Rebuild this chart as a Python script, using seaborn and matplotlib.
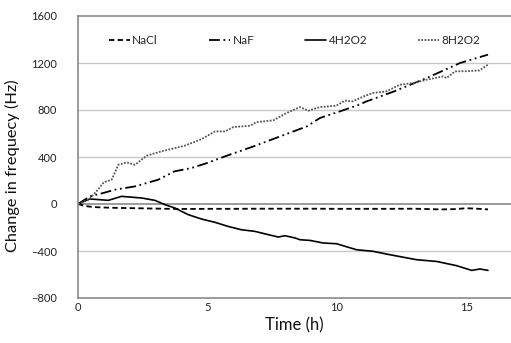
import matplotlib
matplotlib.use("Agg")
import matplotlib.pyplot as plt
import seaborn as sns
import pandas as pd

# ---- data ----
nacl_t = [0, 0.3, 0.6, 1.0, 1.5, 2.0, 2.5, 3.0, 3.5, 4.0, 4.5, 5.0, 6.0, 7.0, 8.0, 9.0,
          10.0, 11.0, 12.0, 13.0, 13.5, 14.0, 14.5, 15.0, 15.4, 15.83]
nacl_v = [0, -18, -26, -30, -33, -35, -37, -39, -41, -42, -42, -41, -41, -40, -40, -40,
          -41, -41, -41, -40, -43, -46, -44, -36, -40, -46]

naf_t = [0, 0.46, 1.0, 1.43, 2.2, 3.1, 3.73, 4.38, 5.0, 5.67, 6.77, 7.8, 8.83, 9.34,
         10.0, 10.9, 11.1, 12.2, 13.46, 14.75, 15.83]
naf_v = [0, 65, 95, 122, 150, 207, 278, 306, 350, 405, 490, 575, 660, 732,
         780, 848, 870, 958, 1072, 1200, 1271]

h4_t = [0, 0.46, 1.17, 1.68, 2.46, 2.97, 3.36, 3.74, 4.26, 4.77, 5.29, 5.8, 6.31, 6.83,
        7.35, 7.73, 7.99, 8.38, 8.57, 8.96, 9.47, 9.98, 10.75, 11.4, 12.05, 13.07,
        13.85, 14.62, 15.2, 15.52, 15.83]
h4_v = [0, 43, 31, 65, 51, 31, -6, -34, -91, -128, -156, -191, -219, -233,
        -261, -281, -270, -289, -304, -310, -332, -338, -389, -403, -432, -474,
        -489, -525, -565, -553, -565]

h8_t = [0, 0.46, 0.8, 1.0, 1.3, 1.56, 1.88, 2.2, 2.65, 3.22, 4.12, 4.78, 5.29, 5.68,
        6.0, 6.64, 6.9, 7.54, 8.05, 8.57, 8.89, 9.34, 9.98, 10.3, 10.6, 11.1, 11.4,
        11.9, 12.43, 12.95, 13.46, 14.1, 14.23, 14.56, 15.0, 15.5, 15.83]
h8_v = [0, 45, 130, 185, 207, 334, 354, 334, 411, 448, 496, 553, 618, 618,
        655, 666, 697, 712, 774, 825, 794, 825, 837, 880, 873, 922, 945,
        958, 1015, 1030, 1058, 1086, 1072, 1129, 1130, 1137, 1186]

series_names = ["NaCl", "NaF", "4H2O2", "8H2O2"]
y_ticks = [-800, -400, 0, 400, 800, 1200, 1600]
x_ticks = [0, 5, 10, 15]

# ---- drawing ----
sns.set_style("white")
plt.rcParams["font.family"] = ["Lato", "DejaVu Sans"]

W, H = 511, 343
fig = plt.figure(figsize=(W / 100, H / 100), dpi=100)
ax = fig.add_axes([78 / W, (H - 298) / H, (W - 78) / W, (298 - 16) / H])

styles = [
    (nacl_t, nacl_v, "black", (0, (3, 1.8)), 1.3),
    (naf_t, naf_v, "black", (0, (6, 2, 1, 2, 1, 2)), 1.3),
    (h4_t, h4_v, "black", "-", 1.2),
    (h8_t, h8_v, "#555555", (0, (1, 0.8)), 1.3),
]
for name, (t, v, c, ls, lw) in zip(series_names, styles):
    df = pd.DataFrame({"t": t, "v": v})
    sns.lineplot(data=df, x="t", y="v", ax=ax, color=c, linestyle=ls,
                 linewidth=lw, label=name)

ax.set_xlim(0, (W - 78) / 25.9)
ax.set_ylim(-800, 1600)
ax.set_yticks(y_ticks)
ax.set_xticks(x_ticks)

for yv in [-400, 400, 800, 1200]:
    ax.axhline(yv, color="#c8c8c8", linewidth=1.0, zorder=0)
ax.axhline(0, color="#8a8a8a", linewidth=1.2, zorder=0.5)
ax.axhline(1600, color="#8a8a8a", linewidth=1.2, zorder=0.5, clip_on=False)

for s in ["top", "right"]:
    ax.spines[s].set_visible(False)
for s in ["left", "bottom"]:
    ax.spines[s].set_color("#8a8a8a")
    ax.spines[s].set_linewidth(1.2)

ax.tick_params(axis="y", length=0, pad=15, labelsize=8, colors="#222222")
ax.tick_params(axis="x", direction="in", length=8, width=1.0, color="#8a8a8a",
               pad=3, labelsize=8, labelcolor="#222222")

ax.set_xlabel("Time (h)", fontsize=12, labelpad=3, color="#111111")
ax.set_ylabel("Change in frequecy (Hz)", fontsize=11.8, labelpad=7, color="#111111")
ax.yaxis.set_label_coords(-0.135, 0.47)

leg = ax.legend(loc="upper center", bbox_to_anchor=(0.5, 0.97), ncol=4, frameon=False,
                fontsize=8.5, handlelength=1.8, handletextpad=0.2, columnspacing=4.3)

fig.savefig("out.png", dpi=100)
